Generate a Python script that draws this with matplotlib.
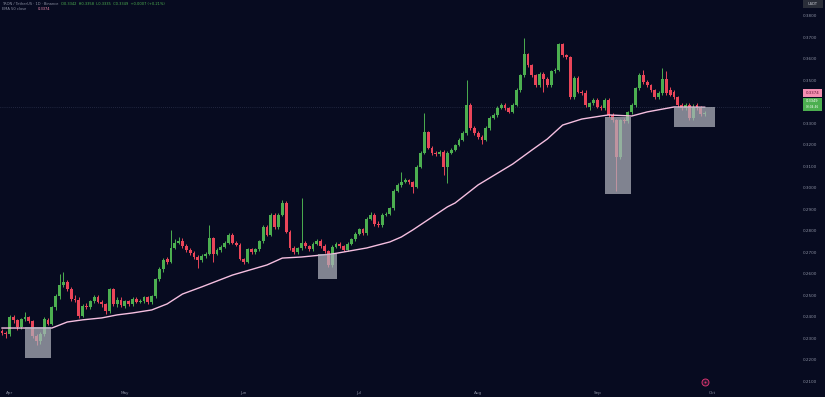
import numpy as np
import pandas as pd
import matplotlib
matplotlib.use('Agg')
from matplotlib import pyplot as plt
from matplotlib.patches import Rectangle
import matplotlib.transforms as mtransforms

# daily candles, TRX/USDT, 30 Mar 2025 onwards
opens = [0.2333, 0.2324, 0.2318, 0.2398, 0.2383, 0.2352, 0.2388, 0.2398, 0.2379, 0.2310,
         0.2290, 0.2320, 0.2385, 0.2368, 0.2444, 0.2495, 0.2550, 0.2560, 0.2530, 0.2485,
         0.2480, 0.2405, 0.2450, 0.2445, 0.2472, 0.2490, 0.2470, 0.2458, 0.2425, 0.2527,
         0.2458, 0.2480, 0.2450, 0.2472, 0.2460, 0.2485, 0.2470, 0.2474, 0.2490, 0.2468,
         0.2495, 0.2574, 0.2620, 0.2668, 0.2655, 0.2722, 0.2745, 0.2752, 0.2730, 0.2712,
         0.2697, 0.2680, 0.2666, 0.2683, 0.2692, 0.2764, 0.2692, 0.2710, 0.2725, 0.2745,
         0.2782, 0.2745, 0.2735, 0.2670, 0.2657, 0.2713, 0.2700, 0.2713, 0.2750, 0.2818,
         0.2782, 0.2875, 0.2818, 0.2875, 0.2930, 0.2796, 0.2722, 0.2700, 0.2718, 0.2745,
         0.2728, 0.2715, 0.2740, 0.2752, 0.2730, 0.2705, 0.2640, 0.2725, 0.2740, 0.2728,
         0.2712, 0.2740, 0.2760, 0.2785, 0.2808, 0.2790, 0.2855, 0.2875, 0.2830, 0.2825,
         0.2875, 0.2880, 0.2905, 0.2985, 0.3013, 0.3027, 0.3035, 0.3025, 0.3005, 0.3097,
         0.3162, 0.3259, 0.3185, 0.3162, 0.3155, 0.3168, 0.3097, 0.3162, 0.3176, 0.3199,
         0.3222, 0.3254, 0.3384, 0.3278, 0.3255, 0.3236, 0.3222, 0.3278, 0.3324, 0.3338,
         0.3370, 0.3384, 0.3368, 0.3352, 0.3384, 0.3453, 0.3523, 0.3620, 0.3569, 0.3523,
         0.3476, 0.3530, 0.3505, 0.3476, 0.3541, 0.3548, 0.3667, 0.3615, 0.3605, 0.3421,
         0.3510, 0.3445, 0.3440, 0.3375, 0.3393, 0.3407, 0.3375, 0.3370, 0.3407, 0.3338,
         0.3314, 0.3143, 0.3314, 0.3310, 0.3350, 0.3384, 0.3463, 0.3523, 0.3490, 0.3476,
         0.3453, 0.3421, 0.3440, 0.3504, 0.3455, 0.3445, 0.3420, 0.3384, 0.3370, 0.3384,
         0.3324, 0.3384, 0.3370, 0.3342]
highs = [0.2345, 0.2335, 0.2410, 0.2410, 0.2390, 0.2395, 0.2421, 0.2405, 0.2385, 0.2318,
         0.2328, 0.2400, 0.2395, 0.2452, 0.2505, 0.2597, 0.2606, 0.2570, 0.2540, 0.2500,
         0.2490, 0.2460, 0.2465, 0.2480, 0.2500, 0.2500, 0.2478, 0.2465, 0.2535, 0.2535,
         0.2490, 0.2490, 0.2480, 0.2480, 0.2492, 0.2492, 0.2482, 0.2498, 0.2495, 0.2502,
         0.2582, 0.2630, 0.2675, 0.2680, 0.2805, 0.2760, 0.2770, 0.2765, 0.2740, 0.2720,
         0.2705, 0.2688, 0.2692, 0.2700, 0.2828, 0.2770, 0.2718, 0.2732, 0.2752, 0.2790,
         0.2790, 0.2752, 0.2742, 0.2675, 0.2720, 0.2722, 0.2720, 0.2758, 0.2828, 0.2828,
         0.2882, 0.2882, 0.2882, 0.2945, 0.2938, 0.2802, 0.2730, 0.2725, 0.2950, 0.2752,
         0.2735, 0.2748, 0.2760, 0.2760, 0.2738, 0.2712, 0.2732, 0.2748, 0.2748, 0.2735,
         0.2748, 0.2768, 0.2792, 0.2815, 0.2815, 0.2862, 0.2885, 0.2882, 0.2845, 0.2882,
         0.2888, 0.2912, 0.2992, 0.3020, 0.3074, 0.3045, 0.3042, 0.3032, 0.3105, 0.3170,
         0.3347, 0.3265, 0.3192, 0.3170, 0.3175, 0.3175, 0.3170, 0.3185, 0.3205, 0.3230,
         0.3262, 0.3499, 0.3392, 0.3285, 0.3262, 0.3245, 0.3285, 0.3332, 0.3345, 0.3378,
         0.3392, 0.3392, 0.3375, 0.3392, 0.3462, 0.3530, 0.3694, 0.3628, 0.3575, 0.3530,
         0.3538, 0.3538, 0.3512, 0.3548, 0.3555, 0.3672, 0.3672, 0.3622, 0.3612, 0.3518,
         0.3518, 0.3452, 0.3452, 0.3400, 0.3415, 0.3415, 0.3382, 0.3415, 0.3415, 0.3345,
         0.3320, 0.3320, 0.3322, 0.3358, 0.3392, 0.3470, 0.3535, 0.3545, 0.3498, 0.3483,
         0.3460, 0.3448, 0.3555, 0.3540, 0.3470, 0.3452, 0.3428, 0.3392, 0.3392, 0.3392,
         0.3390, 0.3395, 0.3378, 0.3358]
lows = [0.2315, 0.2300, 0.2310, 0.2370, 0.2340, 0.2345, 0.2380, 0.2370, 0.2300, 0.2270,
        0.2275, 0.2312, 0.2360, 0.2360, 0.2430, 0.2485, 0.2540, 0.2520, 0.2475, 0.2470,
        0.2395, 0.2398, 0.2435, 0.2438, 0.2465, 0.2462, 0.2448, 0.2415, 0.2418, 0.2450,
        0.2445, 0.2448, 0.2440, 0.2450, 0.2452, 0.2462, 0.2462, 0.2465, 0.2460, 0.2460,
        0.2488, 0.2565, 0.2610, 0.2645, 0.2648, 0.2715, 0.2738, 0.2722, 0.2700, 0.2688,
        0.2670, 0.2625, 0.2655, 0.2675, 0.2685, 0.2655, 0.2685, 0.2702, 0.2718, 0.2738,
        0.2738, 0.2728, 0.2662, 0.2645, 0.2650, 0.2692, 0.2692, 0.2705, 0.2742, 0.2775,
        0.2775, 0.2810, 0.2810, 0.2868, 0.2788, 0.2712, 0.2690, 0.2692, 0.2710, 0.2720,
        0.2705, 0.2708, 0.2732, 0.2722, 0.2698, 0.2630, 0.2632, 0.2718, 0.2720, 0.2705,
        0.2705, 0.2732, 0.2752, 0.2778, 0.2782, 0.2782, 0.2848, 0.2822, 0.2818, 0.2818,
        0.2868, 0.2872, 0.2898, 0.2978, 0.3005, 0.3020, 0.3018, 0.2975, 0.2998, 0.3090,
        0.3155, 0.3178, 0.3150, 0.3148, 0.3145, 0.3060, 0.3020, 0.3155, 0.3170, 0.3192,
        0.3215, 0.3245, 0.3270, 0.3245, 0.3228, 0.3205, 0.3215, 0.3270, 0.3318, 0.3330,
        0.3365, 0.3360, 0.3345, 0.3345, 0.3378, 0.3445, 0.3515, 0.3560, 0.3515, 0.3468,
        0.3468, 0.3445, 0.3468, 0.3468, 0.3535, 0.3540, 0.3608, 0.3598, 0.3410, 0.3410,
        0.3438, 0.3432, 0.3375, 0.3360, 0.3385, 0.3368, 0.3362, 0.3362, 0.3330, 0.3305,
        0.2985, 0.3135, 0.3300, 0.3302, 0.3342, 0.3377, 0.3455, 0.3482, 0.3468, 0.3445,
        0.3412, 0.3413, 0.3432, 0.3432, 0.3425, 0.3412, 0.3375, 0.3362, 0.3362, 0.3315,
        0.3315, 0.3362, 0.3335, 0.3335]
closes = [0.2324, 0.2318, 0.2398, 0.2383, 0.2352, 0.2388, 0.2398, 0.2379, 0.2310, 0.2290,
          0.2320, 0.2388, 0.2368, 0.2444, 0.2495, 0.2550, 0.2560, 0.2530, 0.2485, 0.2480,
          0.2405, 0.2450, 0.2445, 0.2472, 0.2490, 0.2470, 0.2458, 0.2425, 0.2527, 0.2458,
          0.2480, 0.2455, 0.2472, 0.2460, 0.2485, 0.2470, 0.2474, 0.2490, 0.2468, 0.2495,
          0.2574, 0.2620, 0.2666, 0.2655, 0.2722, 0.2745, 0.2752, 0.2730, 0.2712, 0.2697,
          0.2680, 0.2666, 0.2683, 0.2692, 0.2764, 0.2692, 0.2710, 0.2725, 0.2745, 0.2782,
          0.2745, 0.2735, 0.2670, 0.2657, 0.2713, 0.2700, 0.2713, 0.2750, 0.2818, 0.2782,
          0.2875, 0.2818, 0.2875, 0.2930, 0.2796, 0.2722, 0.2700, 0.2718, 0.2745, 0.2728,
          0.2715, 0.2740, 0.2752, 0.2730, 0.2705, 0.2640, 0.2725, 0.2740, 0.2728, 0.2712,
          0.2740, 0.2760, 0.2785, 0.2808, 0.2790, 0.2855, 0.2875, 0.2830, 0.2825, 0.2875,
          0.2880, 0.2905, 0.2985, 0.3013, 0.3027, 0.3035, 0.3025, 0.3005, 0.3097, 0.3162,
          0.3259, 0.3185, 0.3162, 0.3155, 0.3168, 0.3097, 0.3162, 0.3176, 0.3199, 0.3222,
          0.3254, 0.3384, 0.3278, 0.3255, 0.3236, 0.3222, 0.3278, 0.3324, 0.3338, 0.3370,
          0.3384, 0.3368, 0.3352, 0.3384, 0.3453, 0.3523, 0.3620, 0.3569, 0.3523, 0.3476,
          0.3530, 0.3505, 0.3476, 0.3541, 0.3548, 0.3667, 0.3615, 0.3605, 0.3421, 0.3510,
          0.3445, 0.3440, 0.3384, 0.3393, 0.3407, 0.3375, 0.3370, 0.3407, 0.3338, 0.3314,
          0.3143, 0.3314, 0.3310, 0.3350, 0.3384, 0.3463, 0.3523, 0.3490, 0.3476, 0.3453,
          0.3421, 0.3440, 0.3504, 0.3440, 0.3432, 0.3420, 0.3384, 0.3370, 0.3384, 0.3324,
          0.3375, 0.3370, 0.3342, 0.3349]

# EMA 50 at these candles
ema_idx = [0, 13, 17, 21, 26, 30, 34, 39, 43, 47, 52, 60, 69, 73, 78, 86, 95, 101, 104,
           107, 116, 118, 124, 133, 138, 142, 146, 151, 156, 158, 164, 168, 175, 183]
ema_vals = [0.2348, 0.2348, 0.2376, 0.2386, 0.2395, 0.2409, 0.2418, 0.2432, 0.2460, 0.2506,
            0.2539, 0.2594, 0.2641, 0.2673, 0.2678, 0.2692, 0.2720, 0.2748, 0.2771, 0.2804,
            0.2911, 0.2929, 0.3013, 0.3110, 0.3175, 0.3226, 0.3291, 0.3319, 0.3333, 0.3338,
            0.3333, 0.3352, 0.3375, 0.3374]

# grey zones drawn on the chart
zone_start = [6.0, 82.3, 157.0, 175.0]
zone_end = [12.8, 87.2, 163.8, 185.7]
zone_low = [0.2209, 0.2576, 0.2971, 0.3282]
zone_high = [0.2353, 0.2692, 0.3329, 0.3375]

# 0.3400 sits under the price badges, so it is not shown
price_ticks = [0.21, 0.22, 0.23, 0.24, 0.25, 0.26, 0.27, 0.28, 0.29,
               0.30, 0.31, 0.32, 0.33, 0.35, 0.36, 0.37, 0.38]

bg = '#070b20'
up_col = '#4caf50'
dn_col = '#ea4559'
txt_col = '#8a8fa0'

o = np.array(opens)
h = np.array(highs)
l = np.array(lows)
c = np.array(closes)
x = np.arange(len(c))
cols = np.where(c >= o, up_col, dn_col)

fig = plt.figure(figsize=(8.25, 3.97), dpi=100, facecolor=bg)
ax = fig.add_axes([0, 10/397, 770/825, 387/397])
ax.set_facecolor(bg)

ax.vlines(x, l, h, colors=cols, linewidth=0.7, zorder=2)
body = np.maximum(np.abs(c - o), 0.0004)
ax.bar(x, body, bottom=np.minimum(o, c), width=0.74, color=cols, linewidth=0, zorder=3)

ax.plot(ema_idx, ema_vals, color='#f5bfe0', linewidth=1.0, zorder=4)
ax.axhline(ema_vals[-1], color='#3a3f5c', linewidth=0.5, linestyle=(0, (1, 2)), zorder=1)

for s, e, lo, hi in zip(zone_start, zone_end, zone_low, zone_high):
    ax.add_patch(Rectangle((s, lo), e - s, hi - lo, facecolor='#b0b3bd', alpha=0.72,
                           edgecolor='none', zorder=5))

ax.set_xlim(-0.52, 200)
ax.set_ylim(0.2074, 0.3872)

# month ticks
days = pd.date_range('2025-03-30', '2025-10-31', freq='D')
month_pos = [i for i, d in enumerate(days) if d.day == 1]
month_lab = [days[i].strftime('%b') for i in month_pos]
ax.set_xticks(month_pos)
ax.set_xticklabels(month_lab)

ax.yaxis.tick_right()
ax.set_yticks(price_ticks)
ax.set_yticklabels([f'{p:.4f}' for p in price_ticks])
ax.tick_params(axis='y', length=0, pad=23.8, labelsize=3.0, labelcolor=txt_col)
ax.tick_params(axis='x', length=0, pad=2.6, labelsize=3.0, labelcolor=txt_col)
for sp in ax.spines.values():
    sp.set_visible(False)

# event marker at the bottom
trans = mtransforms.blended_transform_factory(ax.transData, ax.transAxes)
ax.plot([183], [0.012], marker='o', ms=5, mfc='#2b1530', mec='#d8336f', mew=0.7,
        transform=trans, clip_on=False, zorder=6)
ax.plot([183], [0.012], marker='o', ms=1.4, mfc='#d8336f', mec='none',
        transform=trans, clip_on=False, zorder=7)

# header
W, H = 825, 397
fig.text(2/W, 1 - 4/H, 'TRON / TetherUS · 1D · Binance', color=txt_col, fontsize=2.6, va='center')
fig.text(61/W, 1 - 4/H, 'O0.3342  H0.3358  L0.3335  C0.3349  +0.0007 (+0.21%)',
         color='#4caf50', fontsize=2.6, va='center')
fig.text(2/W, 1 - 9.5/H, 'EMA 50 close', color=txt_col, fontsize=2.6, va='center')
fig.text(38/W, 1 - 9.5/H, '0.3374', color='#f48fb1', fontsize=2.6, va='center')

# right scale badges
fig.patches.append(Rectangle((803/W, 1 - 7.5/H), 20/W, 7.5/H, transform=fig.transFigure,
                             facecolor='#2a2e39', edgecolor='none'))
fig.text(813/W, 1 - 3.8/H, 'USDT', color='#d1d4dc', fontsize=2.6, ha='center', va='center')
fig.patches.append(Rectangle((803/W, 1 - 97/H), 19/W, 8/H, transform=fig.transFigure,
                             facecolor='#f48fb1', edgecolor='none'))
fig.text(812.5/W, 1 - 93/H, '0.3374', color='#5a1030', fontsize=2.8, ha='center', va='center')
fig.patches.append(Rectangle((803/W, 1 - 111/H), 19/W, 13/H, transform=fig.transFigure,
                             facecolor='#4caf50', edgecolor='none'))
fig.text(812.5/W, 1 - 101.2/H, '0.3349', color='white', fontsize=2.6, ha='center', va='center')
fig.text(812.5/W, 1 - 107.4/H, '03:04:46', color='white', fontsize=2.1, ha='center', va='center')

plt.savefig('out.png', dpi=100, facecolor=bg)
